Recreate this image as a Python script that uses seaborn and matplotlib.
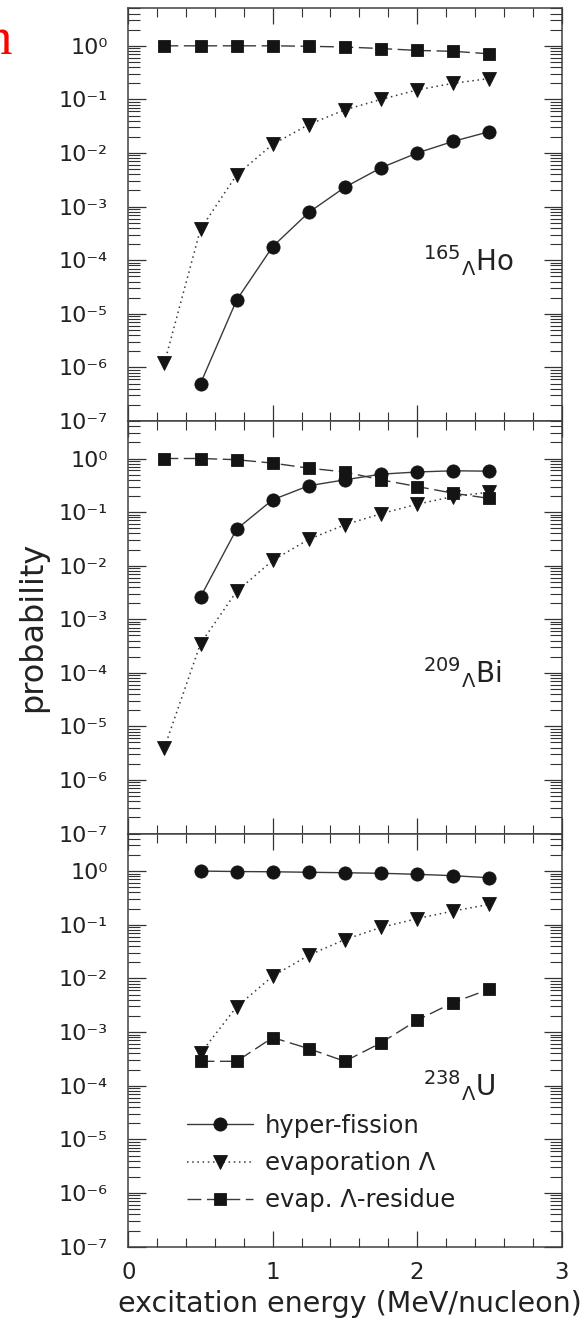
import numpy as np
import matplotlib
matplotlib.use("Agg")
import matplotlib.pyplot as plt
from matplotlib.ticker import LogLocator, NullFormatter, MultipleLocator, FuncFormatter
import seaborn as sns

# excitation energy grid (MeV/nucleon)
energy = [0.25, 0.5, 0.75, 1.0, 1.25, 1.5, 1.75, 2.0, 2.25, 2.5]

# 165-Lambda-Ho
ho_fission = [5.0e-7, 1.8e-5, 1.8e-4, 7.8e-4, 2.3e-3, 5.3e-3, 1.0e-2, 1.65e-2, 2.5e-2]
ho_evap = [1.2e-6, 3.8e-4, 3.9e-3, 1.45e-2, 3.4e-2, 6.4e-2, 0.10, 0.15, 0.20, 0.245]
ho_residue = [1.0, 1.0, 1.0, 1.0, 0.98, 0.95, 0.89, 0.82, 0.79, 0.71]

# 209-Lambda-Bi
bi_fission = [2.6e-3, 0.048, 0.17, 0.31, 0.40, 0.51, 0.56, 0.59, 0.58]
bi_evap = [4.0e-6, 3.5e-4, 3.3e-3, 1.25e-2, 3.1e-2, 5.8e-2, 9.3e-2, 0.14, 0.195, 0.235]
bi_residue = [1.0, 1.0, 0.95, 0.82, 0.66, 0.56, 0.40, 0.30, 0.225, 0.18]

# 238-Lambda-U
u_fission = [1.0, 0.98, 0.97, 0.95, 0.93, 0.91, 0.87, 0.82, 0.75]
u_evap = [4.0e-4, 2.95e-3, 1.1e-2, 2.7e-2, 5.3e-2, 8.9e-2, 0.13, 0.18, 0.24]
u_residue = [2.85e-4, 2.85e-4, 7.9e-4, 4.9e-4, 2.85e-4, 6.3e-4, 1.66e-3, 3.55e-3, 6.3e-3]

series_names = ["hyper-fission", "evaporation \u039b", "evap. \u039b-residue"]
nuclei = [r"${}^{165}{}_{\Lambda}\mathrm{Ho}$",
          r"${}^{209}{}_{\Lambda}\mathrm{Bi}$",
          r"${}^{238}{}_{\Lambda}\mathrm{U}$"]

panels = [
    [(energy[1:], ho_fission), (energy, ho_evap), (energy, ho_residue)],
    [(energy[1:], bi_fission), (energy, bi_evap), (energy, bi_residue)],
    [(energy[1:], u_fission), (energy[1:], u_evap), (energy[1:], u_residue)],
]

sns.set_theme(style="ticks")
plt.rcParams["font.family"] = ["DejaVu Sans"]
plt.rcParams["mathtext.fontset"] = "dejavusans"
TXT = "#222222"
plt.rcParams["text.color"] = TXT
plt.rcParams["xtick.color"] = "#333333"
plt.rcParams["ytick.color"] = "#333333"
plt.rcParams["xtick.labelcolor"] = TXT
plt.rcParams["ytick.labelcolor"] = TXT

LINE = "#3a3a3a"
MARK = "#141414"
styles = [
    dict(marker="o", markersize=9.5, linestyle="-", linewidth=1.0),
    dict(marker="v", markersize=9.8, linestyle=(0, (1.0, 2.4)), linewidth=1.1),
    dict(marker="s", markersize=8.3, linestyle=(0, (10, 4)), linewidth=1.0),
]

SUP = str.maketrans("-0123456789", "\u207b\u2070\u00b9\u00b2\u00b3\u2074\u2075\u2076\u2077\u2078\u2079")


def decade_label(v, pos):
    exp = int(round(np.log10(v)))
    return "10" + str(exp).translate(SUP)


W, H = 585, 1324
fig = plt.figure(figsize=(W / 100, H / 100), dpi=100)

left, right = 128.3, 561.5
edges = [8.3, 421.0, 833.5, 1246.7]
axes = []
for i in range(3):
    top_px, bot_px = edges[i], edges[i + 1]
    rect = [left / W, 1 - bot_px / H, (right - left) / W, (bot_px - top_px) / H]
    ax = fig.add_axes(rect, sharex=axes[0] if axes else None)
    axes.append(ax)

for ax, data, label in zip(axes, panels, nuclei):
    ax.set_yscale("log")
    for (xs, ys), name, st in zip(data, series_names, styles):
        sns.lineplot(x=xs, y=ys, ax=ax, color=LINE, errorbar=None,
                     markerfacecolor=MARK, markeredgecolor=MARK,
                     markeredgewidth=0.6, label=name, legend=False, **st)
    ax.set_xlim(0, 3)
    ax.set_ylim(1e-7, 10 ** 0.7)
    ax.yaxis.set_major_locator(LogLocator(base=10, numticks=20))
    ax.yaxis.set_major_formatter(FuncFormatter(decade_label))
    ax.yaxis.set_minor_locator(LogLocator(base=10, subs=np.arange(2, 10), numticks=20))
    ax.yaxis.set_minor_formatter(NullFormatter())
    ax.xaxis.set_major_locator(MultipleLocator(1))
    ax.xaxis.set_minor_locator(MultipleLocator(0.2))
    ax.tick_params(axis="y", which="major", direction="in", length=13, width=0.9,
                   left=True, right=True, pad=15, labelsize=16)
    ax.tick_params(axis="y", which="minor", direction="in", length=8.5, width=0.8,
                   left=True, right=True)
    ax.tick_params(axis="x", which="major", direction="in", length=11.5, width=0.9,
                   top=True, bottom=True, pad=10, labelsize=16.5)
    ax.tick_params(axis="x", which="minor", direction="in", length=6.5, width=0.8,
                   top=True, bottom=True)
    for sp in ax.spines.values():
        sp.set_visible(True)
        sp.set_color("#404040")
        sp.set_linewidth(1.1)
    ax.set_xlabel("")
    ax.set_ylabel("")
    ax.text(2.04, 1e-4, label, fontsize=20, ha="left", va="center", color=TXT)

for ax in axes[:2]:
    ax.tick_params(axis="x", labelbottom=False)

ax3 = axes[2]
ax3.set_xlabel("excitation energy (MeV/nucleon)", fontsize=20.5, color=TXT)
ax3.xaxis.set_label_coords(0.512, -0.105)
ax3.legend(loc="upper left", bbox_to_anchor=(0.1355, 0.322), frameon=False,
           fontsize=17.5, handlelength=2.7, handletextpad=0.5, labelspacing=0.55,
           borderpad=0, borderaxespad=0, numpoints=1)

fig.text(33 / W, 1 - 626.5 / H, "probability", rotation=90, fontsize=23,
         ha="center", va="center", color=TXT)

fig.text(-14 / W, 1 - 54 / H, "n", color="red", fontsize=38,
         family="Liberation Serif", ha="left", va="baseline")

fig.savefig("out.png", dpi=100)
